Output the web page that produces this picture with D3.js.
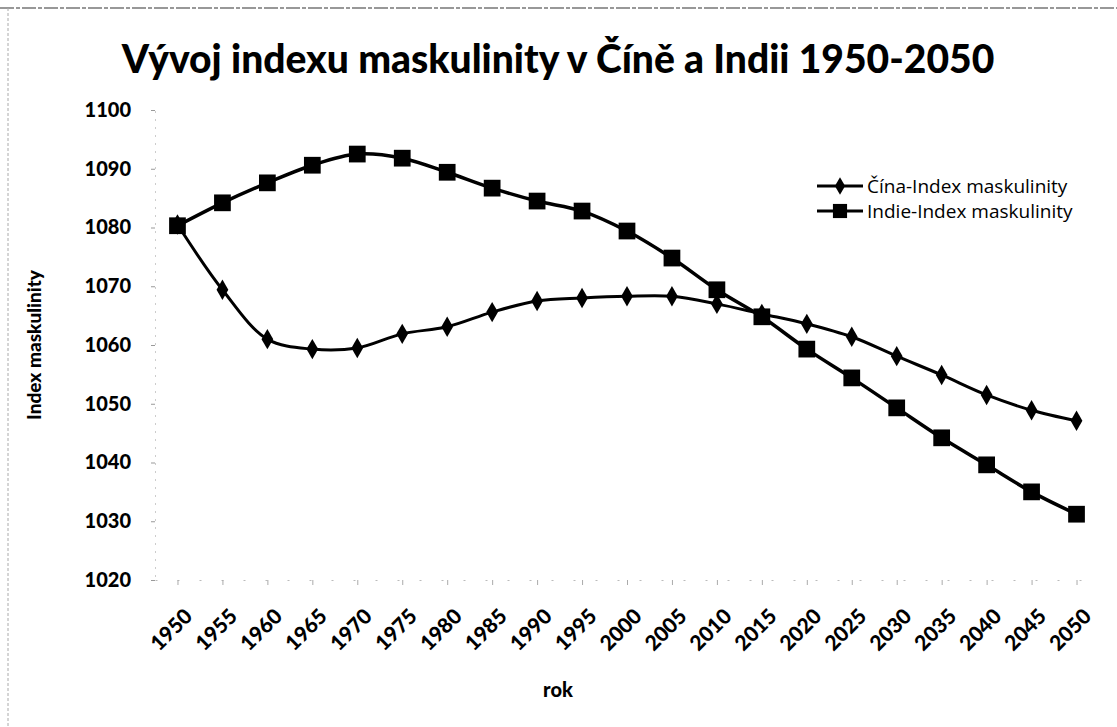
<!DOCTYPE html>
<html>
<head>
<meta charset="utf-8">
<script src="https://cdn.jsdelivr.net/npm/d3@7"></script>
<style>
body{margin:0;background:#fff;}
svg{display:block;}
</style>
</head>
<body>
<div id="chart"></div>
<script>
var years = ["1950","1955","1960","1965","1970","1975","1980","1985","1990","1995","2000","2005","2010","2015","2020","2025","2030","2035","2040","2045","2050"];
var cina = [1080.5,1069.4,1061.0,1059.3,1059.5,1061.9,1063.1,1065.6,1067.5,1068.0,1068.3,1068.3,1067.0,1065.3,1063.6,1061.4,1058.1,1054.9,1051.5,1048.9,1047.1];
var indie = [1080.3,1084.2,1087.6,1090.6,1092.5,1091.8,1089.4,1086.7,1084.5,1082.8,1079.4,1074.8,1069.4,1064.8,1059.3,1054.4,1049.3,1044.2,1039.6,1035.0,1031.2];
var yTicks = [1020,1030,1040,1050,1060,1070,1080,1090,1100];
var seriesNames = ["Čína-Index maskulinity","Indie-Index maskulinity"];

var width = 1117, height = 727;
var svg = d3.select("#chart").append("svg").attr("width", width).attr("height", height);

// faint scan frame
svg.append("line").attr("x1",0).attr("x2",width).attr("y1",8).attr("y2",8)
	.attr("stroke","#777").attr("stroke-width",1.5).attr("stroke-dasharray","14,2,4,2");
svg.append("line").attr("x1",8).attr("x2",8).attr("y1",8).attr("y2",height)
	.attr("stroke","#aaa").attr("stroke-width",1).attr("stroke-dasharray","3,2");

var stx = 155, enx = 1099, sty = 110, eny = 580;

var x = d3.scalePoint().domain(years).range([stx, enx]).padding(0.5);
var y = d3.scaleLinear().domain([1020, 1100]).range([eny, sty]);

// title
svg.append("text").attr("x", 558).attr("y", 73).attr("text-anchor","middle")
	.attr("font-family","Lato, 'Open Sans', sans-serif").attr("font-weight",900)
	.attr("font-size", 39).text("Vývoj indexu maskulinity v Číně a Indii 1950-2050");

// y axis
var yAxis = svg.append("g").attr("transform","translate("+stx+",0)")
	.call(d3.axisLeft(y).tickValues(yTicks).tickSize(4).tickPadding(20).tickFormat(d3.format("d")));
yAxis.select(".domain").attr("stroke","#ccc").attr("stroke-dasharray","2,6");
yAxis.selectAll(".tick line").attr("stroke","#999");
yAxis.selectAll("text").attr("font-family","Lato, sans-serif").attr("font-weight",900)
	.attr("font-size",20).attr("fill","#000");

// x axis
var xAxis = svg.append("g").attr("transform","translate(0,"+eny+")")
	.call(d3.axisBottom(x).tickSize(5).tickSizeOuter(0));
xAxis.select(".domain").attr("stroke","#bbb").attr("stroke-dasharray","2,20");
xAxis.selectAll(".tick line").attr("stroke","#aaa");
xAxis.selectAll("text").attr("font-family","Lato, sans-serif").attr("font-weight",900)
	.attr("font-size",21).attr("fill","#000")
	.attr("text-anchor","end").attr("dy",0)
	.attr("transform","translate(10,32) rotate(-45)");

// axis titles
svg.append("text").attr("x", 558).attr("y", 697).attr("text-anchor","middle")
	.attr("font-family","Lato, sans-serif").attr("font-weight",900).attr("font-size",20).text("rok");
svg.append("text").attr("transform","translate(41,345) rotate(-90)").attr("text-anchor","middle")
	.attr("font-family","Lato, sans-serif").attr("font-weight",900).attr("font-size",19).text("Index maskulinity");

var line = d3.line().x(function(d, i){ return x(years[i]); }).y(function(d){ return y(d); })
	.curve(d3.curveCatmullRom.alpha(0.5));

svg.append("path").datum(indie).attr("d", line).attr("fill","none").attr("stroke","#000").attr("stroke-width",3.5);
svg.append("path").datum(cina).attr("d", line).attr("fill","none").attr("stroke","#000").attr("stroke-width",3);

var diamond = d3.symbol().type(d3.symbolDiamond).size(120);
var square = d3.symbol().type(d3.symbolSquare).size(280);

svg.selectAll(".sq").data(indie).enter().append("path").attr("class","sq")
	.attr("d", square).attr("fill","#000")
	.attr("transform", function(d, i){ return "translate("+x(years[i])+","+y(d)+")"; });
svg.selectAll(".dm").data(cina).enter().append("path").attr("class","dm")
	.attr("d", diamond).attr("fill","#000")
	.attr("transform", function(d, i){ return "translate("+x(years[i])+","+y(d)+")"; });

// legend
var lg = svg.append("g").attr("transform","translate(817,186)");
seriesNames.forEach(function(name, i){
	var gy = i * 25;
	lg.append("line").attr("x1",0).attr("x2",46).attr("y1",gy).attr("y2",gy).attr("stroke","#000").attr("stroke-width",3);
	lg.append("path").attr("d", i === 0 ? d3.symbol().type(d3.symbolDiamond).size(90)() : d3.symbol().type(d3.symbolSquare).size(200)())
		.attr("transform","translate(23,"+gy+")").attr("fill","#000");
	lg.append("text").attr("x",50).attr("y",gy+7).attr("font-family","'Open Sans', sans-serif")
		.attr("font-size",19).text(name);
});
</script>
</body>
</html>
